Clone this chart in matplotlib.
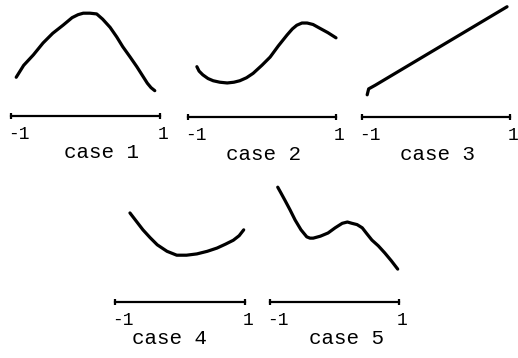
import matplotlib.pyplot as plt
import numpy as np

# curves, x on the [-1, 1] number line, y in the same units
case_names = ["case 1", "case 2", "case 3", "case 4", "case 5"]
tick_labels = ["-1", "1"]

x1 = [-0.93, -0.83, -0.70, -0.57, -0.44, -0.30, -0.18, -0.10, -0.03, 0.06, 0.15,
      0.23, 0.33, 0.42, 0.50, 0.60, 0.69, 0.76, 0.83, 0.88, 0.93]
y1 = [0.52, 0.68, 0.82, 0.98, 1.11, 1.22, 1.32, 1.36, 1.38, 1.38, 1.37,
      1.30, 1.19, 1.06, 0.93, 0.79, 0.66, 0.55, 0.44, 0.38, 0.34]

x2 = [-0.88, -0.85, -0.80, -0.73, -0.66, -0.57, -0.47, -0.38, -0.30, -0.21, -0.12,
      0.00, 0.11, 0.22, 0.34, 0.41, 0.47, 0.54, 0.61, 0.69, 0.78, 0.89, 1.00]
y2 = [0.68, 0.62, 0.57, 0.52, 0.49, 0.47, 0.46, 0.47, 0.49, 0.53, 0.59,
      0.70, 0.81, 0.96, 1.11, 1.19, 1.24, 1.27, 1.27, 1.25, 1.20, 1.14, 1.07]

x3 = [-0.93, -0.91, -0.82, 0.96]
y3 = [0.30, 0.38, 0.43, 1.49]

x4 = [-0.77, -0.67, -0.57, -0.46, -0.35, -0.20, -0.05, 0.10, 0.26, 0.42, 0.57,
      0.70, 0.82, 0.91, 0.98]
y4 = [1.37, 1.24, 1.11, 0.99, 0.88, 0.78, 0.72, 0.72, 0.74, 0.78, 0.83,
      0.89, 0.95, 1.02, 1.11]

x5 = [-0.88, -0.83, -0.77, -0.69, -0.61, -0.52, -0.43, -0.38, -0.33, -0.22, -0.10,
      0.01, 0.12, 0.20, 0.27, 0.35, 0.43, 0.50, 0.58, 0.68, 0.78, 0.88, 0.98]
y5 = [1.78, 1.69, 1.58, 1.43, 1.27, 1.12, 1.01, 0.99, 0.99, 1.02, 1.07,
      1.15, 1.22, 1.24, 1.22, 1.20, 1.15, 1.06, 0.96, 0.87, 0.76, 0.64, 0.51]

xs = [x1, x2, x3, x4, x5]
ys = [y1, y2, y3, y4, y5]

# panel layout in pixels: number line left end, right end, height from top
L = [11, 188, 362, 115, 270]
R = [160, 336, 510, 245, 399]
A = [116, 117, 117, 302, 302]
label_dx = [16, 2, 2, -11, 12]

W, H = 518, 358
fig = plt.figure(figsize=(W / 100, H / 100), dpi=100)
font = "Liberation Mono"

for i in range(5):
    half = (R[i] - L[i]) / 2
    cx = (L[i] + R[i]) / 2
    x_lo, x_hi, y_lo, y_hi = -1.3, 1.3, -0.7, 2.0
    left = (cx + x_lo * half) / W
    width = (x_hi - x_lo) * half / W
    bottom = (H - (A[i] - y_lo * half)) / H
    height = (y_hi - y_lo) * half / H
    ax = fig.add_axes([left, bottom, width, height])
    ax.set_xlim(x_lo, x_hi)
    ax.set_ylim(y_lo, y_hi)
    ax.axis('off')

    ax.plot(xs[i], ys[i], color='black', lw=2.3, solid_capstyle='round',
            solid_joinstyle='round', clip_on=False)
    # number line with end ticks
    ax.plot([-1, 1], [0, 0], color='black', lw=1.6, clip_on=False)
    ax.plot([-1, 1], [0, 0], ls='none', marker='|', ms=5, mew=1.6,
            color='black', clip_on=False)

    ax.annotate(tick_labels[0], xy=(-1, 0), xytext=(-3, -10),
                textcoords='offset pixels', ha='left', va='top',
                fontsize=13, family=font)
    ax.annotate(tick_labels[1], xy=(1, 0), xytext=(3, -10),
                textcoords='offset pixels', ha='center', va='top',
                fontsize=13, family=font)
    ax.annotate(case_names[i], xy=(0, 0), xytext=(label_dx[i], -37),
                textcoords='offset pixels', ha='center', va='center',
                fontsize=15, family=font)

fig.savefig("out.png", dpi=100)
